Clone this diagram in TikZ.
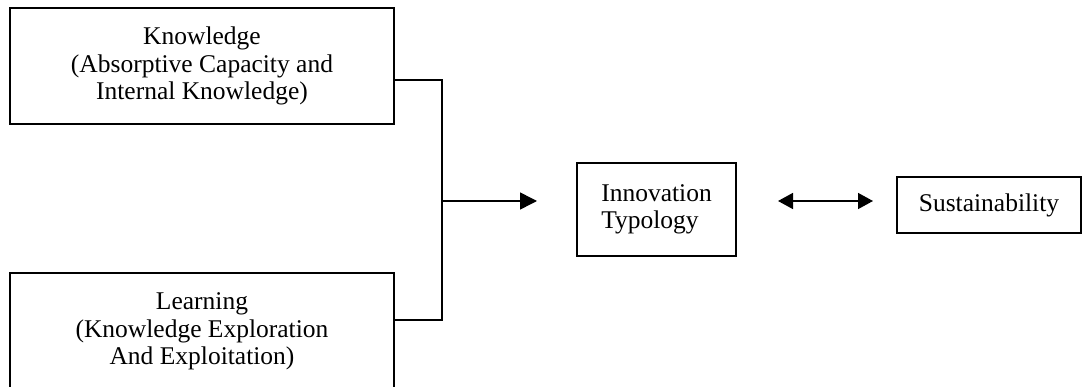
\documentclass[tikz,border=0pt]{standalone}
\usepackage{fontspec}
\setmainfont{Liberation Serif}
\usetikzlibrary{arrows.meta}

\tikzstyle{widefig}=[x=1pt,y=-1pt,line width=1.5pt]
\tikzstyle{factor}=[draw,inner sep=0pt,align=center,font=\fontsize{25.5}{27.5}\selectfont]
\tikzstyle{flow}=[-{Triangle[length=17pt,width=17pt]}]
\tikzstyle{twoway}=[{Triangle[length=15pt,width=16pt]}-{Triangle[length=15pt,width=16pt]}]

\begin{document}
\begin{tikzpicture}[style=widefig]
\useasboundingbox (0,0) rectangle (1083,387);

\node[factor,minimum width=384pt,minimum height=116pt] (know) at (202,66)
  {Knowledge\\(Absorptive Capacity and\\Internal Knowledge)};
\node[factor,minimum width=384pt,minimum height=117pt] (learn) at (202,331.5)
  {Learning\\(Knowledge Exploration\\And Exploitation)};
\node[factor,align=left,minimum width=159pt,minimum height=93pt] (innov) at (656.5,209.5)
  {Innovation\\Typology};
\node[factor,minimum width=184pt,minimum height=56pt] (sustain) at (989,205)
  {Sustainability};

\coordinate (kout) at ([yshift=-14pt]know.east);
\coordinate (lout) at ([yshift=11.5pt]learn.east);
\coordinate (join) at (442,201);
\coordinate (tip) at (537,201);
\coordinate (left) at (778,201);
\coordinate (right) at (873,201);

\draw (kout) -| (join) |- (lout);
\draw[flow] (join) -- (tip);
\draw[twoway] (left) -- (right);
\end{tikzpicture}
\end{document}
